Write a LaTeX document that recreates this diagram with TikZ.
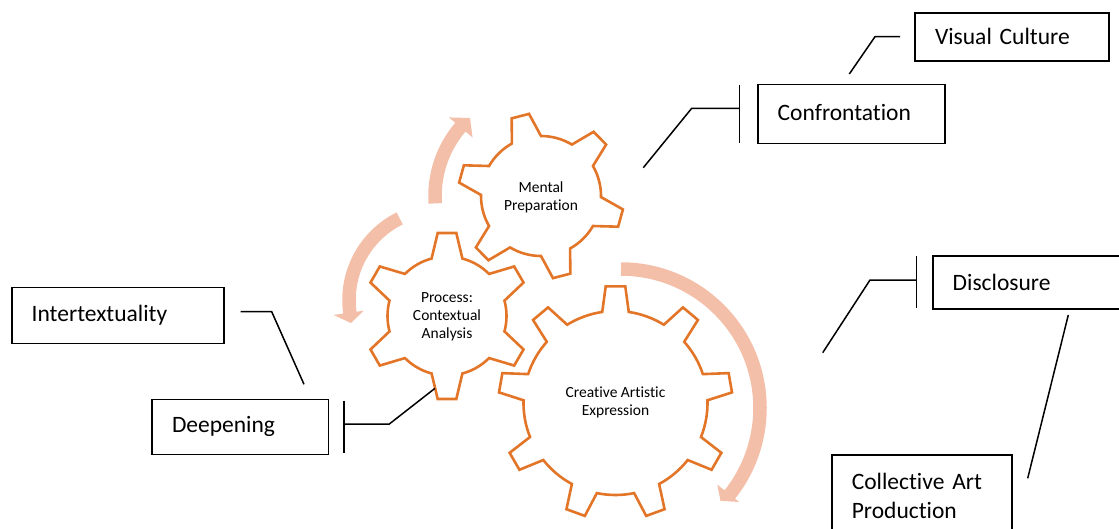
\documentclass[tikz,border=0pt]{standalone}
\usepackage{fontspec}
\setmainfont{Carlito}[Ligatures=NoCommon]
\definecolor{gearc}{RGB}{226,117,40}
\definecolor{arrc}{RGB}{244,191,169}
\tikzset{
  gearline/.style={draw=gearc, line width=2.6pt, line join=miter},
  band/.style={draw=arrc, line width=13.5pt},
  head/.style={fill=arrc, draw=none},
  box/.style={draw=black, line width=1.6pt, rectangle, align=left, inner xsep=20pt, inner ysep=0pt,
    font=\fontsize{23.5}{28.5}\selectfont},
  conn/.style={draw=black, line width=1.5pt},
  gtext/.style={align=center, font=\fontsize{15.5}{17.9}\selectfont, inner sep=0pt},
}
\newcommand{\drawgear}[8]{%
  \begin{scope}[shift={(#1,#2)}]
    \pgfmathsetmacro{\gstep}{360/#3}
    \draw[gearline] ({#4-#8}:#6)
      \foreach \k in {1,...,#3} {
        -- ({#4+(\k-1)*\gstep-#7}:#5) -- ({#4+(\k-1)*\gstep+#7}:#5) -- ({#4+(\k-1)*\gstep+#8}:#6)
        arc[start angle={#4+(\k-1)*\gstep+#8}, end angle={#4+\k*\gstep-#8}, radius=#6]
      } -- cycle;
  \end{scope}}
\begin{document}
\begin{tikzpicture}[x=1pt,y=-1pt]
\useasboundingbox (0,0) rectangle (1119,528);

% circular arrows
\begin{scope}[shift={(541,196)}]
  \draw[band] (176:106) arc[start angle=176, end angle=221, radius=106];
  \fill[head] (220.5:90) -- (220.5:121) -- (227.7:105.5) -- cycle;
\end{scope}
\begin{scope}[shift={(440,300)}]
  \draw[band] (243.7:91) arc[start angle=243.7, end angle=171.5, radius=91];
  \fill[head] (172:77) -- (172:107.5) -- (165.5:92) -- cycle;
\end{scope}
\begin{scope}[shift={(621,408)}]
  \draw[band] (-90:139) arc[start angle=-90, end angle=39, radius=139];
  \fill[head] (38.5:123) -- (38.5:151) -- (43:136) -- cycle;
\end{scope}

% gears
\drawgear{541}{196}{6}{-104.5}{83}{60}{6.2}{14.5}
\drawgear{447}{316}{6}{-90}{83.5}{59.5}{6.4}{15}
\drawgear{615.5}{403}{9}{-90}{117}{92}{4.8}{8.3}

\node[gtext] (g1) at (541,197.5) {Mental\\Preparation};
\node[gtext] (g2) at (447,316.5) {Process:\\Contextual\\Analysis};
\node[gtext] (g3) at (615.5,402.5) {Creative Artistic\\Expression};

% boxes
\node[box, text width=154pt, minimum height=48.3pt] (vc) at (1012,36.85) {Visual Culture};
\node[box, text width=147.3pt, minimum height=59pt] (conf) at (851.35,113.8) {\raisebox{3pt}{Confrontation}};
\node[box, text width=157.3pt, minimum height=53pt] (disc) at (1031.35,282.5) {Disclosure};
\node[box, text width=140pt, minimum height=82pt, anchor=north west] (coll) at (831,454.3) {Collective Art\\Production};
\node[box, text width=172.3pt, minimum height=56pt] (inter) at (117.85,315.3) {Intertextuality};
\node[box, text width=136.3pt, minimum height=55pt] (deep) at (240.15,426.8) {Deepening};

% connectors
\coordinate (vcA) at (900,36.7);
\coordinate (vcB) at (875,36.7);
\coordinate (vcC) at (849.3,74);
\draw[conn] (vcA) -- (vcB) -- (vcC);

\coordinate (cfT) at (739.3,85);
\coordinate (cfD) at (739.3,142.7);
\coordinate (cfM) at (739.3,108.3);
\coordinate (cfK) at (691.7,108.3);
\coordinate (cfE) at (643.3,167.7);
\draw[conn] (cfT) -- (cfD);
\draw[conn] (cfM) -- (cfK) -- (cfE);

\coordinate (dsT) at (916.7,256);
\coordinate (dsD) at (916.7,308.3);
\coordinate (dsM) at (916.7,280);
\coordinate (dsK) at (870,280);
\coordinate (dsE) at (822.7,352.7);
\draw[conn] (dsT) -- (dsD);
\draw[conn] (dsM) -- (dsK) -- (dsE);

\coordinate (clA) at (1068.3,315);
\coordinate (clB) at (1027.7,478.3);
\draw[conn] (clA) -- (clB);

\coordinate (itA) at (240.7,311.7);
\coordinate (itB) at (271.7,311.7);
\coordinate (itC) at (304,384.3);
\draw[conn] (itA) -- (itB) -- (itC);

\coordinate (dpT) at (344,400.7);
\coordinate (dpD) at (344,453.3);
\coordinate (dpM) at (344,424);
\coordinate (dpK) at (389.3,424);
\coordinate (dpE) at (435,388.3);
\draw[conn] (dpT) -- (dpD);
\draw[conn] (dpM) -- (dpK) -- (dpE);
\end{tikzpicture}
\end{document}
